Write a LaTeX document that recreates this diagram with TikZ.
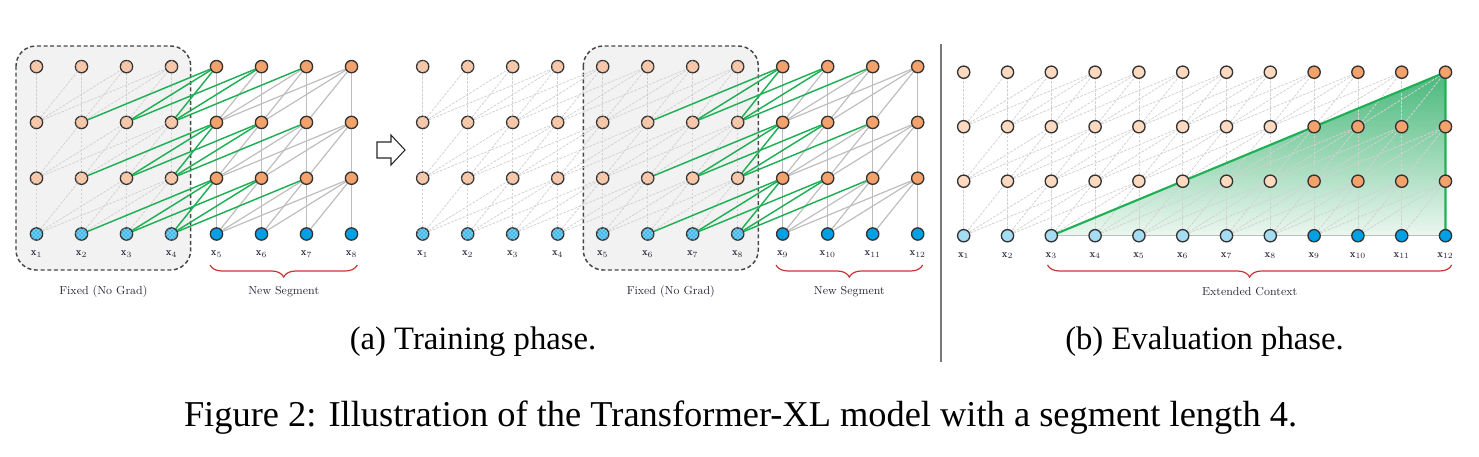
\documentclass[tikz,border=0pt]{standalone}
\usepackage{fontspec}
\usetikzlibrary{patterns,decorations.pathreplacing}
\newfontfamily\capfont{Liberation Serif}
\pgfdeclarelayer{back}
\pgfdeclarelayer{bg}
\pgfsetlayers{back,bg,main}

\begin{document}
\begin{tikzpicture}[x=0.75pt,y=0.75pt,yscale=-1,xscale=1,
	tok/.style={circle,draw={rgb,255:red,51;green,51;blue,51},line width=1pt,minimum size=9.2pt,inner sep=0pt},
	memhid/.style={tok,fill={rgb,255:red,246;green,192;blue,158},postaction={pattern=crosshatch dots,pattern color=white}},
	memin/.style={tok,fill={rgb,255:red,70;green,186;blue,234},postaction={pattern=crosshatch dots,pattern color=white}},
	newhid/.style={tok,fill={rgb,255:red,242;green,162;blue,106}},
	newin/.style={tok,fill={rgb,255:red,0;green,161;blue,228}},
	ctxhid/.style={tok,fill={rgb,255:red,253;green,217;blue,192}},
	ctxin/.style={tok,fill={rgb,255:red,164;green,220;blue,244}},
	memln/.style={draw={rgb,255:red,210;green,210;blue,210},line width=0.6pt,dash pattern=on 2pt off 1pt},
	newln/.style={draw={rgb,255:red,190;green,190;blue,190},line width=0.9pt},
	grnln/.style={draw={rgb,255:red,31;green,176;blue,86},line width=1.1pt},
	fixbox/.style={draw={rgb,255:red,70;green,70;blue,70},fill={rgb,255:red,242;green,242;blue,242},line width=1.1pt,dash pattern=on 3pt off 2pt,rounded corners=15pt},
	brc/.style={draw={rgb,255:red,204;green,51;blue,51},line width=0.9pt,decorate,decoration={brace,mirror,amplitude=9pt}},
	xlab/.style={font=\fontsize{8}{9}\selectfont,text={rgb,255:red,40;green,40;blue,60},inner sep=0pt},
	sublab/.style={font=\fontsize{8.7}{10}\selectfont,text={rgb,255:red,40;green,40;blue,60}},
	captxt/.style={font=\capfont\fontsize{24.5}{29}\selectfont}]
	
	\useasboundingbox (0,0) rectangle (1479,457);
	
	% (a) training, first segment
	\foreach \i in {1,...,8}{
		\ifnum\i>4 \def\stin{newin}\def\sthid{newhid}\else\def\stin{memin}\def\sthid{memhid}\fi
		\node[\stin] (a-1-\i) at ({36.5+45*(\i-1)},234) {};
		\foreach \r in {2,3,4}
			\node[\sthid] (a-\r-\i) at ({36.5+45*(\i-1)},{234-55.8*(\r-1)}) {};
		\node[xlab] (a-x-\i) at ({36.5+45*(\i-1)},254) {$\mathbf{x}_{\i}$};
	}
	
	% (a) training, second segment
	\foreach \i in {1,...,12}{
		\ifnum\i>8 \def\stin{newin}\def\sthid{newhid}\else\def\stin{memin}\def\sthid{memhid}\fi
		\node[\stin] (b-1-\i) at ({422.7+45*(\i-1)},234) {};
		\foreach \r in {2,3,4}
			\node[\sthid] (b-\r-\i) at ({422.7+45*(\i-1)},{234-55.8*(\r-1)}) {};
		\node[xlab] (b-x-\i) at ({422.7+45*(\i-1)},254) {$\mathbf{x}_{\i}$};
	}
	
	% (b) evaluation
	\foreach \i in {1,...,12}{
		\ifnum\i>8 \def\stin{newin}\def\sthid{newhid}\else\def\stin{ctxin}\def\sthid{ctxhid}\fi
		\node[\stin] (c-1-\i) at ({963.7+43.8*(\i-1)},235.7) {};
		\foreach \r in {2,3,4}
			\node[\sthid] (c-\r-\i) at ({963.7+43.8*(\i-1)},{235.7-54.5*(\r-1)}) {};
		\node[xlab] (c-x-\i) at ({963.7+43.8*(\i-1)},255.5) {$\mathbf{x}_{\i}$};
	}
	
	\begin{pgfonlayer}{back}
		\draw[fixbox] (16,46) rectangle (190.7,270);
		\draw[fixbox] (583.3,46) rectangle (758.3,270);
		\fill[top color={rgb,255:red,72;green,184;blue,122},bottom color={rgb,255:red,236;green,247;blue,240}] (c-1-3.center) -- (c-4-12.center) -- (c-1-12.center) -- cycle;
	\end{pgfonlayer}
	
	\begin{pgfonlayer}{bg}
		\foreach \r in {1,2,3}{
			\pgfmathtruncatemacro\s{\r+1}
			\foreach \i in {1,...,8}{
				\foreach \k in {0,...,3}{
					\pgfmathtruncatemacro\j{\i-\k}
					\ifnum\j>0
						\ifnum\i>4 \ifnum\j>4 \draw[newln] (a-\r-\j) -- (a-\s-\i);\fi
						\else \draw[memln] (a-\r-\j) -- (a-\s-\i);\fi
					\fi
				}}
			\foreach \i in {1,...,12}{
				\foreach \k in {0,...,3}{
					\pgfmathtruncatemacro\j{\i-\k}
					\ifnum\j>0
						\ifnum\i>8 \ifnum\j>8 \draw[newln] (b-\r-\j) -- (b-\s-\i);\fi
						\else \draw[memln] (b-\r-\j) -- (b-\s-\i);\fi
						\draw[memln] (c-\r-\j) -- (c-\s-\i);
					\fi
				}}
			% green: new segment attending to the cached one
			\foreach \i in {5,6,7}{
				\pgfmathtruncatemacro\lo{\i-3}
				\foreach \j in {\lo,...,4}
					\draw[grnln] (a-\r-\j) -- (a-\s-\i);
			}
			\foreach \i in {9,10,11}{
				\pgfmathtruncatemacro\lo{\i-3}
				\foreach \j in {\lo,...,8}
					\draw[grnln] (b-\r-\j) -- (b-\s-\i);
			}
		}
		\draw[grnln,line width=1.6pt] (c-1-3.center) -- (c-4-12.center) -- (c-1-12.center);
	\end{pgfonlayer}
	
	% arrow between the two segments
	\draw[draw={rgb,255:red,40;green,40;blue,40},line width=0.8pt,fill=white] (377,142) -- (391,142) -- (391,135) -- (405,150) -- (391,165) -- (391,158) -- (377,158) -- cycle;
	
	% separator
	\draw[draw={rgb,255:red,120;green,120;blue,120},line width=1.5pt] (940.7,44) -- (940.7,362);
	
	% braces
	\coordinate (a-bl) at (210,265);
	\coordinate (a-br) at (357.3,265);
	\coordinate (b-bl) at (776,265);
	\coordinate (b-br) at (922.7,265);
	\coordinate (c-bl) at (1047.5,265);
	\coordinate (c-br) at (1451.7,265);
	\draw[brc] (a-bl) -- (a-br);
	\draw[brc] (b-bl) -- (b-br);
	\draw[brc] (c-bl) -- (c-br);
	
	\node[sublab] (a-fix) at (103.4,292) {Fixed (No Grad)};
	\node[sublab] (a-new) at (283.7,292) {New Segment};
	\node[sublab] (b-fix) at (670.8,292) {Fixed (No Grad)};
	\node[sublab] (b-new) at (849.3,292) {New Segment};
	\node[sublab] (c-ext) at (1249.6,292) {Extended Context};
	
	\node[captxt] (capa) at (473,342) {(a) Training phase.};
	\node[captxt] (capb) at (1204.5,342) {(b) Evaluation phase.};
	\node[captxt,font=\capfont\fontsize{27.3}{32}\selectfont] (capfig) at (740.5,418) {Figure 2: Illustration of the Transformer-XL model with a segment length 4.};
	
\end{tikzpicture}
\end{document}
